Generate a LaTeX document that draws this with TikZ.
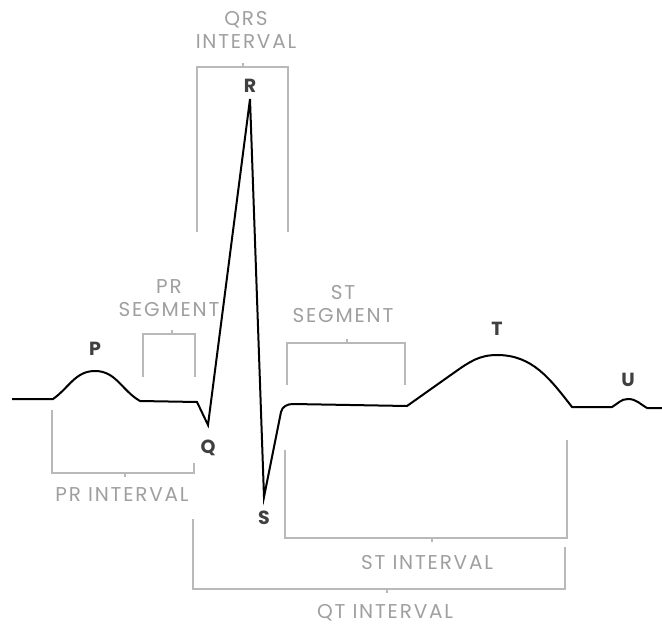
\documentclass[tikz,border=0pt]{standalone}
\usepackage{fontspec}
\setmainfont{Poppins}
\newfontfamily\lblfont[LetterSpace=9]{Poppins}
\usepackage{tikz}
\usetikzlibrary{positioning}

\begin{document}
\begin{tikzpicture}[
  x=1pt, y=-1pt,
  wave/.style={line width=2pt, black},
  bracket/.style={line width=1.2pt, gray!55},
  lbl/.style={font=\lblfont\fontsize{20}{23}\selectfont, text=gray!75, align=center, inner sep=0pt},
  wlbl/.style={font=\bfseries\fontsize{19}{22}\selectfont, text=black!75, inner sep=0pt}
]
  \useasboundingbox (0,0) rectangle (662,626);

  % trace points
  \coordinate (start) at (12,399);
  \coordinate (pon) at (53,399);
  \coordinate (ppk) at (95,371);
  \coordinate (poff) at (140,401);
  \coordinate (qon) at (197,402);
  \coordinate (qpk) at (208,425);
  \coordinate (rpk) at (250,99);
  \coordinate (spk) at (264,497);
  \coordinate (son) at (281,412);
  \coordinate (stn) at (293,404);
  \coordinate (ton) at (407,406);
  \coordinate (tup) at (455,372);
  \coordinate (tpk) at (497,355);
  \coordinate (toff) at (572,407);
  \coordinate (uon) at (612,407);
  \coordinate (upk) at (628,399);
  \coordinate (uoff) at (647,408);
  \coordinate (stop) at (662,408);

  \draw[wave] (start) -- (pon) to[out=35,in=180] (ppk) to[out=0,in=150] (poff)
    -- (qon) -- (qpk) -- (rpk) -- (spk) -- (son) to[out=78,in=180] (stn)
    -- (ton) -- (tup) to[out=35,in=180] (tpk) to[out=0,in=128] (toff)
    -- (uon) to[out=30,in=180] (upk) to[out=0,in=150] (uoff) -- (stop);

  % wave letters
  \node[wlbl, above=15pt of ppk] (lP) {P};
  \node[wlbl, below=15pt of qpk] (lQ) {Q};
  \node[wlbl, above=6pt of rpk] (lR) {R};
  \node[wlbl, below=14pt of spk] (lS) {S};
  \node[wlbl, above=19pt of tpk] (lT) {T};
  \node[wlbl, above=12pt of upk] (lU) {U};

  % brackets above the trace
  \draw[bracket] (197,232) -- (197,67) -- (288,67) -- (288,232);
  \draw[bracket] (243,67) -- (243,63);
  \draw[bracket] (143,377) -- (143,334) -- (195,334) -- (195,377);
  \draw[bracket] (172,334) -- (172,330);
  \draw[bracket] (287,385) -- (287,343) -- (405,343) -- (405,385);
  \draw[bracket] (347,343) -- (347,339);

  % brackets below the trace
  \draw[bracket] (52,410) -- (52,473) -- (194,473) -- (194,463);
  \draw[bracket] (125,473) -- (125,477);
  \draw[bracket] (285,450) -- (285,538) -- (567,538) -- (567,440);
  \draw[bracket] (432,538) -- (432,542);
  \draw[bracket] (193,519) -- (193,589) -- (565,589) -- (565,547);
  \draw[bracket] (387,589) -- (387,593);

  \node[lbl] (qrs) at (246,30) {QRS\\INTERVAL};
  \node[lbl] (prseg) at (169,298) {PR\\SEGMENT};
  \node[lbl] (stseg) at (343,304) {ST\\SEGMENT};
  \node[lbl] (print) at (122,495) {PR INTERVAL};
  \node[lbl] (stint) at (427,563) {ST INTERVAL};
  \node[lbl] (qtint) at (385,613) {QT INTERVAL};
\end{tikzpicture}
\end{document}
